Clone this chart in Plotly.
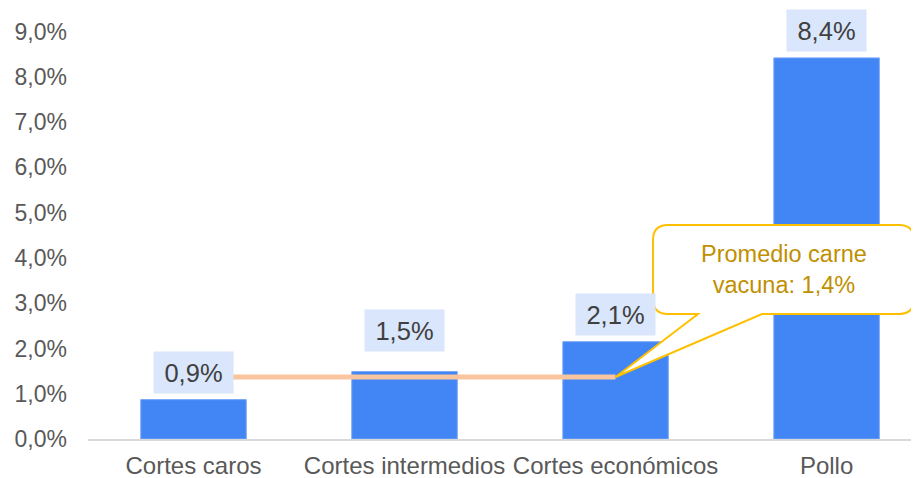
import plotly.graph_objects as go

categories = ["Cortes caros", "Cortes intermedios", "Cortes económicos", "Pollo"]
values = [0.87, 1.49, 2.15, 8.42]
labels = ["0,9%", "1,5%", "2,1%", "8,4%"]
avg_value = 1.37
avg_text = "Promedio carne<br>vacuna: 1,4%"
y_ticks = [0, 1, 2, 3, 4, 5, 6, 7, 8, 9]
y_ticktext = ["0,0%", "1,0%", "2,0%", "3,0%", "4,0%", "5,0%", "6,0%", "7,0%", "8,0%", "9,0%"]

FONT = "Liberation Sans, Arial, sans-serif"
OFF = 8  # page body margin
W, H = 919 - OFF, 478 - OFF
ML, MR, MT, MB = 88 - OFF, 0, 9 - OFF, 39
XR = [-0.5, 3.438]
YR = [0, 9.5]

xs = list(range(len(categories)))

fig = go.Figure()
fig.add_trace(go.Bar(x=xs, y=values, width=0.5, marker=dict(color="#4285F4", line=dict(color="#78A8F8", width=1)),
                     hoverinfo="skip"))
fig.add_trace(go.Scatter(x=[xs[0], xs[2]], y=[avg_value, avg_value], mode="lines",
                         line=dict(color="#F9C59F", width=5), hoverinfo="skip"))

# data labels
shifts = [27.5, 41.5, 27.5, 27.5]
for x, v, t, s in zip(xs, values, labels, shifts):
    fig.add_annotation(x=x, y=v, text=t, showarrow=False, yshift=s, width=77, height=39,
                       bgcolor="#D9E6FB", font=dict(family=FONT, size=25.5, color="#404040"),
                       xanchor="center", yanchor="middle")

# page pixel -> data helpers for the callout geometry
pw = W - ML - MR
ph = H - MT - MB
def dx(px):
    return XR[0] + (px - OFF - ML) / pw * (XR[1] - XR[0])
def dy(py):
    return YR[0] + (H - MB - (py - OFF)) / ph * (YR[1] - YR[0])

L, R, T, B = dx(653), dx(914), dy(225), dy(314)
rx = dx(653 + 15) - L
ry = dy(225) - dy(240)
tl, tr = dx(698), dx(762)
tipx, tipy = xs[2], avg_value
path = (f"M {L+rx},{T} L {R-rx},{T} Q {R},{T} {R},{T-ry} L {R},{B+ry} Q {R},{B} {R-rx},{B} "
        f"L {tr},{B} L {tipx},{tipy} L {tl},{B} L {L+rx},{B} Q {L},{B} {L},{B+ry} L {L},{T-ry} "
        f"Q {L},{T} {L+rx},{T} Z")
fig.add_shape(type="path", path=path, xref="x", yref="y", fillcolor="white",
              line=dict(color="#FFC000", width=2), layer="above")
fig.add_annotation(x=(L + R) / 2, y=(T + B) / 2, text=avg_text, showarrow=False,
                   font=dict(family=FONT, size=23.5, color="#BF9000"), align="center",
                   xanchor="center", yanchor="middle")

fig.update_layout(
    width=W, height=H, margin=dict(l=ML, r=MR, t=MT, b=MB),
    paper_bgcolor="white", plot_bgcolor="white", showlegend=False,
    font=dict(family=FONT, size=24, color="#595959"),
    xaxis=dict(range=XR, tickmode="array", tickvals=xs, ticktext=categories, showgrid=False,
               zeroline=False, showline=True, linecolor="#D9D9D9", linewidth=1.5, ticks="",
               ticklabelstandoff=4,
               tickfont=dict(family=FONT, size=24, color="#595959"), fixedrange=True),
    yaxis=dict(range=YR, tickmode="array", tickvals=y_ticks, ticktext=y_ticktext, showgrid=False,
               zeroline=False, showline=False, ticks="", ticklabelstandoff=20,
               tickfont=dict(family=FONT, size=23, color="#595959"), fixedrange=True),
)

fig.write_html("out.html", config={"displayModeBar": False})
